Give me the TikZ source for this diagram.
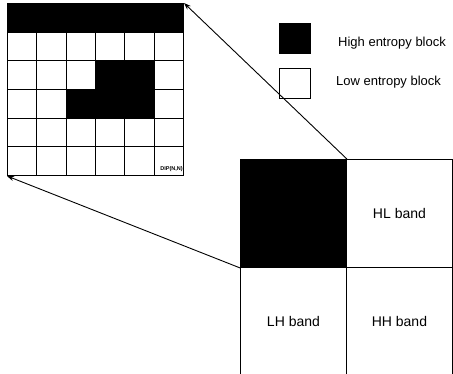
\documentclass[tikz,border=0pt]{standalone}
\usepackage{fontspec}
\setmainfont{Liberation Sans}
\usetikzlibrary{arrows.meta}
\begin{document}
\begin{tikzpicture}[x=1pt,y=-1pt,
  line/.style={line width=0.8pt,black},
  cellbox/.style={draw,line width=1pt,minimum width=29.33pt,minimum height=28.67pt,inner sep=0pt,anchor=north west},
  band/.style={draw,line width=0.9pt,minimum width=106pt,minimum height=108pt,inner sep=0pt,anchor=north west,font=\fontsize{14}{16}\selectfont},
  legbox/.style={draw,line width=0.9pt,minimum width=31pt,minimum height=30pt,inner sep=0pt,anchor=north west},
  legtext/.style={anchor=west,inner sep=0pt,font=\fontsize{13}{15}\selectfont},
  zoomarrow/.style={line width=0.9pt,-{Stealth[length=7pt,width=5pt]}}]
\useasboundingbox (0,0) rectangle (453,373);
% grid
\foreach \r in {0,...,5}{
  \foreach \c in {0,...,5}{
    \node[cellbox] (c\r\c) at ({7+\c*29.33},{3+\r*28.67}) {};
  }
}
\foreach \r/\c in {0/0,0/1,0/2,0/3,0/4,0/5,2/3,2/4,3/2,3/3,3/4}{
  \fill[black] ({7+\c*29.33},{3+\r*28.67}) rectangle +(29.33,28.67);
}
\node[draw,line width=1pt,minimum width=176pt,minimum height=172pt,inner sep=0pt,anchor=north west] (grid) at (7,3) {};
\node[anchor=south east,inner sep=1pt,font=\bfseries\fontsize{5.5}{6}\selectfont] (dip) at (c55.south east) [yshift=3pt] {DIP(N,N)};
% bands
\node[band,fill=black] (LL) at (240,159) {};
\node[band] (HL) at (346,159) {HL band};
\node[band,minimum height=110pt] (LH) at (240,267) {\raisebox{2pt}{LH band}};
\node[band,minimum height=110pt] (HH) at (346,267) {\raisebox{2pt}{HH band}};
% arrows
\draw[zoomarrow] (LL.north east) -- (grid.north east);
\draw[zoomarrow] (LL.south west) -- (grid.south west);
% legend
\node[legbox,fill=black] (hi) at (279,23) {};
\node[legbox] (lo) at (279,68) {};
\node[legtext] (hitext) at (338,43) {High entropy block};
\node[legtext] (lotext) at (336,82) {Low entropy block};
\end{tikzpicture}
\end{document}
